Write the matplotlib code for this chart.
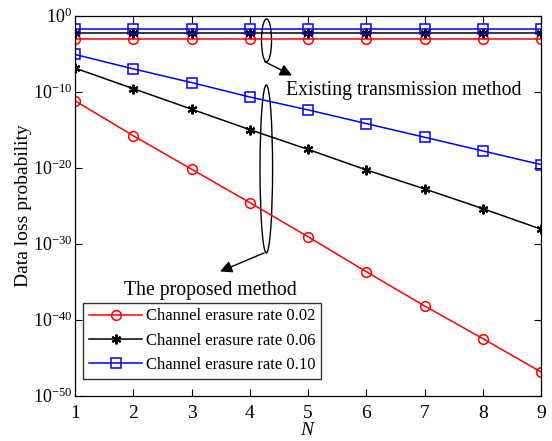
import numpy as np
import matplotlib
matplotlib.use("Agg")
import matplotlib.pyplot as plt
from matplotlib.patches import Ellipse
from matplotlib.ticker import NullLocator

plt.rcParams['font.family'] = ['Liberation Serif', 'DejaVu Serif']
plt.rcParams['mathtext.fontset'] = 'custom'
plt.rcParams['mathtext.rm'] = 'Liberation Serif'
plt.rcParams['mathtext.it'] = 'Liberation Serif:italic'

N = [1, 2, 3, 4, 5, 6, 7, 8, 9]

# Existing transmission method (constant), as log10 exponents
exist_002 = [-3.1] * 9
exist_006 = [-2.3] * 9
exist_010 = [-1.8] * 9

# The proposed method, log10 exponents
prop_002 = [-11.2, -15.8, -20.2, -24.6, -29.1, -33.7, -38.2, -42.5, -46.9]
prop_006 = [-6.9, -9.6, -12.3, -15.0, -17.6, -20.3, -22.8, -25.4, -28.1]
prop_010 = [-5.1, -7.0, -8.8, -10.7, -12.4, -14.2, -16.0, -17.8, -19.6]

labels = ['Channel erasure rate 0.02', 'Channel erasure rate 0.06',
          'Channel erasure rate 0.10']
ytick_exps = [0, -10, -20, -30, -40, -50]

fig = plt.figure(figsize=(5.52, 4.41), dpi=100)
ax = fig.add_axes([75/552, 1-395.5/441, 466/552, 379.8/441])

p = lambda e: 10.0 ** np.array(e)

lw = 1.1
ax.plot(N, p(exist_002), color='red', marker='o', mfc='none', ms=7, lw=lw, mew=1.1)
ax.plot(N, p(exist_006), color='black', marker=(6, 2, 0), ms=7, lw=lw, mew=1.5)
ax.plot(N, p(exist_010), color='blue', marker='s', mfc='none', ms=7, lw=lw, mew=1.1)

h1, = ax.plot(N, p(prop_002), color='red', marker='o', mfc='none', ms=7, lw=lw, mew=1.1)
h2, = ax.plot(N, p(prop_006), color='black', marker=(6, 2, 0), ms=7, lw=lw, mew=1.5)
h3, = ax.plot(N, p(prop_010), color='blue', marker='s', mfc='none', ms=7, lw=lw, mew=1.1)

ax.set_yscale('log')
ax.set_xlim(1, 9)
ax.set_ylim(1e-50, 1e0)
ax.set_xticks(N)
ax.set_yticks([10.0**k for k in ytick_exps])
ax.set_yticklabels([r'$\mathdefault{10^{%d}}$' % k for k in ytick_exps])
ax.yaxis.set_minor_locator(NullLocator())
ax.tick_params(direction='in', top=True, right=True, length=5, width=0.8)
ax.tick_params(axis='x', pad=7, labelsize=14)
ax.tick_params(axis='y', pad=2, labelsize=13)
for s in ax.spines.values():
    s.set_linewidth(0.9)

ax.set_xlabel('$N$', fontsize=14, labelpad=0)
ax.set_ylabel('Data loss probability', fontsize=14)
ax.yaxis.set_label_coords(-0.093, 0.5)

# annotations: ellipses & arrows
e1 = Ellipse((0.411, 0.935), 0.0215, 0.113, transform=ax.transAxes,
             fill=False, color='black', lw=1.0)
e2 = Ellipse((0.4105, 0.5964), 0.027, 0.442, transform=ax.transAxes,
             fill=False, color='black', lw=1.0)
ax.add_patch(e1)
ax.add_patch(e2)

def fx(px):
    return (px - 75) / 466
def fy(py):
    return 1 - (py - 15.7) / 379.8

ax.annotate('', xy=(fx(292), fy(75.5)), xytext=(fx(264.5), fy(61.5)),
            xycoords='axes fraction', textcoords='axes fraction',
            arrowprops=dict(arrowstyle='-|>', color='black', lw=1.0,
                            mutation_scale=18, shrinkA=0, shrinkB=0))
ax.annotate('', xy=(fx(220), fy(271.5)), xytext=(fx(264), fy(253)),
            xycoords='axes fraction', textcoords='axes fraction',
            arrowprops=dict(arrowstyle='-|>', color='black', lw=1.0,
                            mutation_scale=18, shrinkA=0, shrinkB=0))

ax.text(fx(286), fy(90.5), 'Existing transmission method', fontsize=14.2,
        ha='left', va='center', transform=ax.transAxes)
ax.text(fx(124), fy(290), 'The proposed method', fontsize=14.2,
        ha='left', va='center', transform=ax.transAxes)

leg = ax.legend([h1, h2, h3], labels, loc='lower left',
                bbox_to_anchor=(fx(83), fy(379)), fontsize=12,
                frameon=True, fancybox=False, edgecolor='black',
                handlelength=3.2, handletextpad=0.2, borderpad=0.35,
                labelspacing=0.5, borderaxespad=0)
leg.get_frame().set_linewidth(1.0)

fig.savefig('out.png', dpi=100)
